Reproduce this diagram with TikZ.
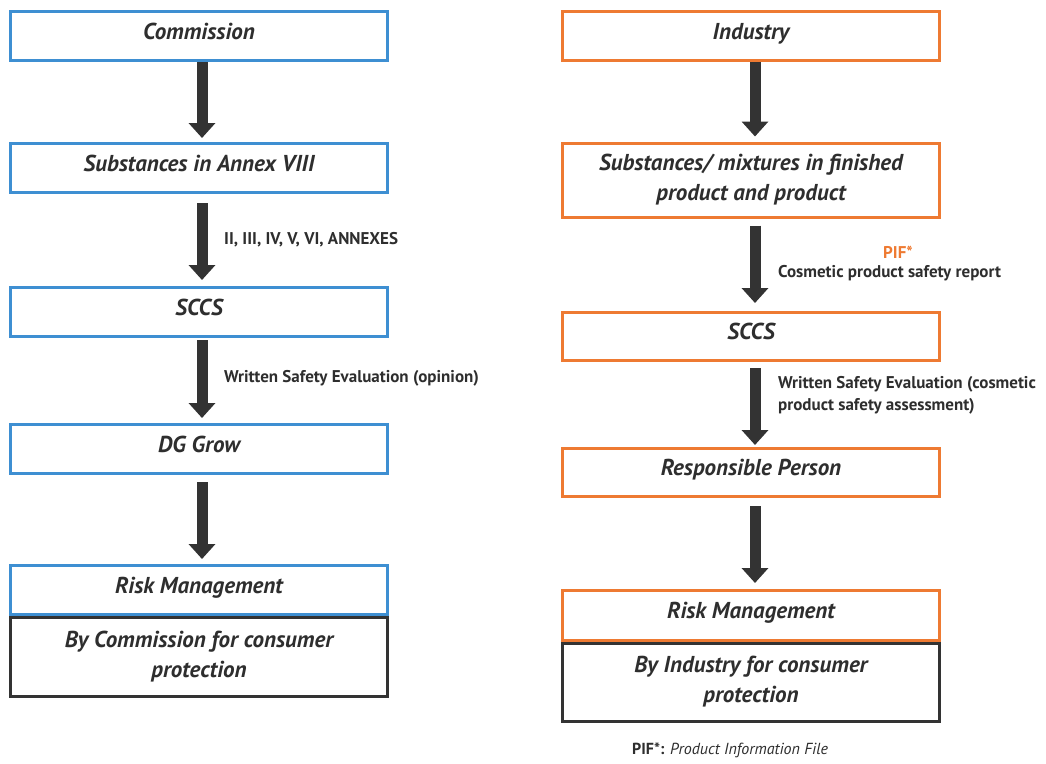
\documentclass[tikz,border=0pt]{standalone}
\usepackage{fontspec}
\setmainfont{PT Sans}
\usetikzlibrary{arrows.meta}
\definecolor{bluebox}{HTML}{3E8FD2}
\definecolor{orangebox}{HTML}{EE7A32}
\definecolor{darkbox}{HTML}{333333}
\definecolor{txt}{HTML}{2E2E2E}
\tikzset{
  x=1pt,y=1pt,
  box/.style={draw, line width=3pt, minimum width=377pt, inner sep=0pt, align=center,
    text=txt, font=\fontsize{23}{30}\selectfont\bfseries\itshape},
  oneline/.style={text height=16pt, text depth=10pt},
  bluebx/.style={box, draw=bluebox},
  orangebx/.style={box, draw=orangebox},
  darkbx/.style={box, draw=darkbox},
  bigarrow/.style={draw=darkbox, line width=11pt, -{Triangle[width=26pt,length=15pt]}},
  lbl/.style={anchor=west, inner sep=0pt, align=left, text=txt,
    font=\fontsize{17}{22}\selectfont\bfseries},
}
\begin{document}
\begin{tikzpicture}
\useasboundingbox (0,0) rectangle (1046,-763);
% left column
\node[bluebx, oneline, minimum height=49pt] (L1) at (199,-36) {Commission};
\node[bluebx, oneline, minimum height=49pt] (L2) at (199,-168) {Substances in Annex VIII};
\node[bluebx, oneline, minimum height=49pt] (L3) at (199,-312) {SCCS};
\node[bluebx, oneline, minimum height=49pt] (L4) at (199,-449) {DG Grow};
\node[darkbx, minimum height=79pt] (L6) at (199,-656.5) {By Commission for consumer\\protection};
\node[bluebx, oneline, minimum height=49pt] (L5) at (199,-590) {Risk Management};
% right column
\node[orangebx, oneline, minimum height=49pt] (R1) at (751,-36) {Industry};
\node[orangebx, minimum height=74pt] (R2) at (751,-180) {Substances/ mixtures in finished\\product and product};
\node[orangebx, oneline, minimum height=48pt] (R3) at (751,-336.5) {SCCS};
\node[orangebx, oneline, minimum height=48pt] (R4) at (751,-472.5) {Responsible Person};
\node[darkbx, minimum height=78pt] (R6) at (751,-682) {By Industry for consumer\\protection};
\node[orangebx, oneline, minimum height=50pt] (R5) at (751,-615.5) {Risk Management};
% left arrows
\draw[bigarrow] ([xshift=3pt]L1.south) -- ([xshift=3pt,yshift=4pt]L2.north);
\draw[bigarrow] ([xshift=3pt,yshift=-9pt]L2.south) -- ([xshift=3pt,yshift=6pt]L3.north);
\draw[bigarrow] ([xshift=3pt,yshift=-2pt]L3.south) -- ([xshift=3pt,yshift=5pt]L4.north);
\draw[bigarrow] ([xshift=3pt,yshift=-7pt]L4.south) -- ([xshift=3pt,yshift=5pt]L5.north);
% right arrows
\draw[bigarrow] ([xshift=4pt]R1.south) -- ([xshift=4pt,yshift=5pt]R2.north);
\draw[bigarrow] ([xshift=4pt,yshift=-7pt]R2.south) -- ([xshift=4pt,yshift=8pt]R3.north);
\draw[bigarrow] ([xshift=4pt,yshift=-6pt]R3.south) -- ([xshift=4pt,yshift=2pt]R4.north);
\draw[bigarrow] ([xshift=4pt,yshift=-8pt]R4.south) -- ([xshift=4pt,yshift=6pt]R5.north);
% labels
\node[lbl] (la1) at (224,-240) {II, III, IV, V, VI, ANNEXES};
\node[lbl] (la2) at (224,-378) {Written Safety Evaluation (opinion)};
\node[lbl, text=orangebox] (ra0) at (883,-252) {PIF*};
\node[lbl] (ra1) at (778,-273) {Cosmetic product safety report};
\node[lbl, anchor=north west] (ra2) at (778,-376) {Written Safety Evaluation (cosmetic\\product safety assessment)};
\node[lbl, font=\fontsize{16}{18}\selectfont] (foot) at (632,-750) {\textbf{PIF*:} \textmd{\itshape Product Information File}};
\end{tikzpicture}
\end{document}
